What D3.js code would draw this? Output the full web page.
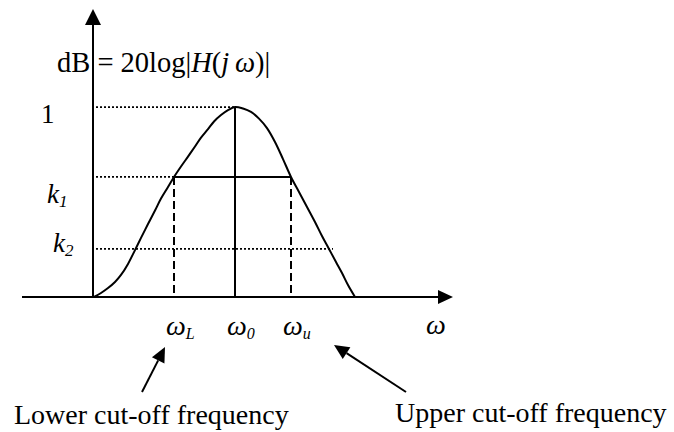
<!DOCTYPE html>
<html>
<head>
<meta charset="utf-8">
<script src="https://cdn.jsdelivr.net/npm/d3@7"></script>
<style>
  html, body { margin: 0; padding: 0; background: #fff; }
  svg { display: block; }
  text { font-family: "Liberation Serif", "Times New Roman", serif; fill: #000; }
</style>
</head>
<body>
<svg id="chart" width="674" height="432"></svg>
<script>
// Band-pass magnitude response (normalised gain vs. angular frequency, arbitrary units)
const omega = [0.1, 0.8, 1.5, 2.2, 2.8, 3.5, 4.2, 4.8, 5.5, 6.2, 6.8, 7.5, 8.1,
               8.8, 9.5, 10.2, 10.8, 11.5, 12.1, 12.8, 13.5, 14.2,
               15.0, 15.8, 16.6, 17.4, 18.2, 19.0, 19.8, 20.6, 21.4, 22.2,
               22.9, 23.6, 24.3, 24.9, 25.5, 26.2];
const gain  = [0, 0.021, 0.047, 0.079, 0.116, 0.174, 0.247, 0.311, 0.384, 0.455, 0.518, 0.579, 0.632,
               0.687, 0.739, 0.792, 0.839, 0.884, 0.924, 0.958, 0.984, 1.0,
               0.992, 0.974, 0.939, 0.889, 0.816, 0.726, 0.632, 0.553, 0.474, 0.395,
               0.321, 0.253, 0.184, 0.126, 0.063, 0];

// Characteristic frequencies
const freqNames  = ["L", "0", "u"];
const freqValues = [8.1, 14.2, 19.8];

// Reference levels on the gain axis
const levelNames  = ["1", "k1", "k2"];
const levelValues = [1.0, 0.632, 0.253];
const levelEnds   = [14.2, 8.1, 24.0];   // how far each dotted guide runs along ω

// Axis extents
const omegaDomain = [-7.1, 36];
const gainDomain  = [0, 1.516];

const svg = d3.select("#chart");
const x = d3.scaleLinear().domain(omegaDomain).range([22, 453]);
const y = d3.scaleLinear().domain(gainDomain).range([297, 9]);

const ink = "#000";

// ---- axes with arrow heads ----
const x0 = x(0), y0 = y(0);
svg.append("line")
  .attr("x1", x(omegaDomain[0])).attr("x2", x(omegaDomain[1]) - 8)
  .attr("y1", y0).attr("y2", y0)
  .attr("stroke", ink).attr("stroke-width", 2);
svg.append("path")
  .attr("d", `M${x(omegaDomain[1])},${y0} l-15,-7 l0,14 Z`)
  .attr("fill", ink);

svg.append("line")
  .attr("x1", x0).attr("x2", x0)
  .attr("y1", y0 + 1).attr("y2", y(gainDomain[1]) + 8)
  .attr("stroke", ink).attr("stroke-width", 2);
svg.append("path")
  .attr("d", `M${x0},${y(gainDomain[1])} l-8,16 l16,0 Z`)
  .attr("fill", ink);

// ---- dotted guides from the gain axis ----
levelValues.forEach((v, i) => {
  svg.append("line")
    .attr("x1", x0 + 3).attr("x2", x(levelEnds[i]))
    .attr("y1", y(v)).attr("y2", y(v))
    .attr("stroke", ink).attr("stroke-width", 1.7)
    .attr("stroke-dasharray", "2,2");
});

// ---- half-power band: solid top, dashed sides ----
const k1 = levelValues[1];
svg.append("line")
  .attr("x1", x(freqValues[0])).attr("x2", x(freqValues[2]))
  .attr("y1", y(k1)).attr("y2", y(k1))
  .attr("stroke", ink).attr("stroke-width", 2);
[freqValues[0], freqValues[2]].forEach(f => {
  svg.append("line")
    .attr("x1", x(f)).attr("x2", x(f))
    .attr("y1", y(k1)).attr("y2", y0)
    .attr("stroke", ink).attr("stroke-width", 2)
    .attr("stroke-dasharray", "8,4");
});
// centre frequency
svg.append("line")
  .attr("x1", x(freqValues[1])).attr("x2", x(freqValues[1]))
  .attr("y1", y(levelValues[0])).attr("y2", y0)
  .attr("stroke", ink).attr("stroke-width", 2);

// ---- response curve ----
const pts = omega.map((w, i) => [w, gain[i]]);
svg.append("path")
  .datum(pts)
  .attr("fill", "none").attr("stroke", ink).attr("stroke-width", 2)
  .attr("d", d3.line().x(d => x(d[0])).y(d => y(d[1])).curve(d3.curveCatmullRom.alpha(0.5)));

// ---- title on the gain axis ----
const title = svg.append("text").attr("x", 57).attr("y", 72).attr("font-size", 28.5);
title.append("tspan").text("dB = 20log|");
title.append("tspan").attr("font-style", "italic").text("H");
title.append("tspan").text("(");
title.append("tspan").attr("font-style", "italic").text("j\u2009ω");
title.append("tspan").text(")|");

// ---- level labels ----
const levelLabelPos = [[41, 16], [47, 26], [53, 3]]; // [x, baseline offset from level]
levelNames.forEach((n, i) => {
  const t = svg.append("text")
    .attr("x", levelLabelPos[i][0])
    .attr("y", y(levelValues[i]) + levelLabelPos[i][1])
    .attr("font-size", 27);
  if (n.length === 1) {
    t.text(n);
  } else {
    t.append("tspan").attr("font-style", "italic").text(n[0]);
    t.append("tspan").attr("font-style", "italic").attr("font-size", 17)
      .attr("dy", 4).text(n.slice(1));
  }
});

// ---- frequency labels ----
freqNames.forEach((n, i) => {
  const t = svg.append("text")
    .attr("x", x(freqValues[i]) - 8).attr("y", 335)
    .attr("font-size", 28).attr("font-style", "italic");
  t.append("tspan").text("ω");
  t.append("tspan").attr("font-size", 16).attr("dy", 4).text(n);
});
svg.append("text")
  .attr("x", x(34.3)).attr("y", 334)
  .attr("font-size", 28).attr("font-style", "italic")
  .attr("text-anchor", "middle").text("ω");

// ---- annotations ----
function arrow(x1, y1, x2, y2) {
  const a = Math.atan2(y2 - y1, x2 - x1);
  const L = 15, W = 7;
  const bx = x2 - L * Math.cos(a), by = y2 - L * Math.sin(a);
  svg.append("line")
    .attr("x1", x1).attr("y1", y1).attr("x2", bx).attr("y2", by)
    .attr("stroke", ink).attr("stroke-width", 2);
  svg.append("path")
    .attr("d", `M${x2},${y2} L${bx + W * Math.sin(a)},${by - W * Math.cos(a)} L${bx - W * Math.sin(a)},${by + W * Math.cos(a)} Z`)
    .attr("fill", ink);
}
arrow(142, 392, 165, 347);
arrow(406, 392, 334, 345);

svg.append("text").attr("x", 14).attr("y", 424).attr("font-size", 28)
  .text("Lower cut-off frequency");
svg.append("text").attr("x", 395).attr("y", 422).attr("font-size", 28)
  .text("Upper cut-off frequency");
</script>
</body>
</html>
